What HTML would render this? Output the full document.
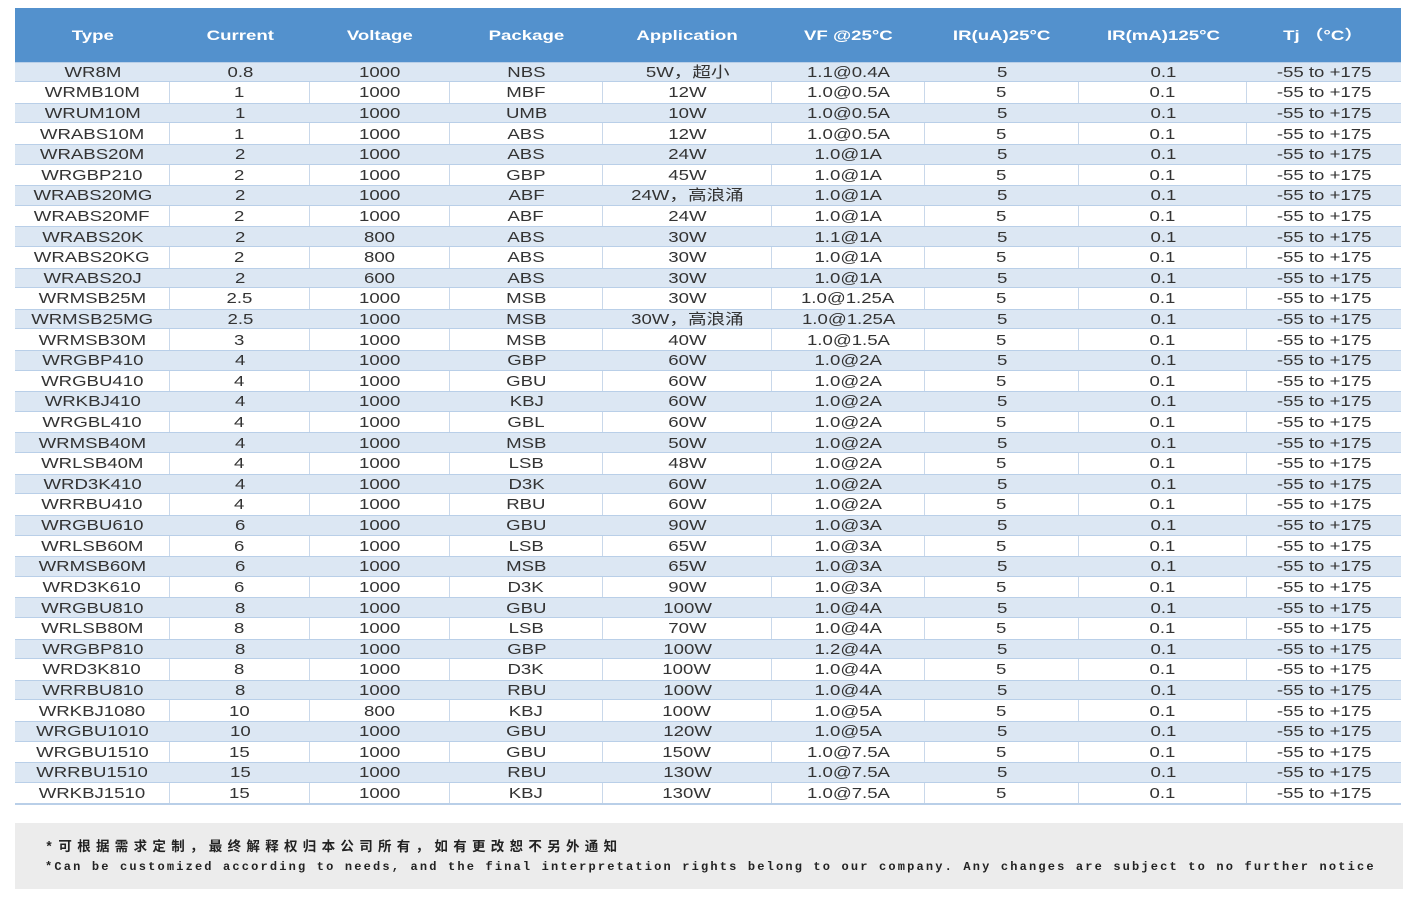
<!DOCTYPE html>
<html><head><meta charset="utf-8">
<style>
*{margin:0;padding:0;box-sizing:border-box}
html,body{width:1420px;height:920px;background:#fff;overflow:hidden}
body{position:relative;font-family:"Liberation Sans","Noto Sans CJK SC",sans-serif;color:#333}
.hdr{position:absolute;left:15px;top:8px;width:1386px;height:53.5px;background:#5391cd;display:flex;align-items:center}
.hdr div{text-align:center;color:#fff;font-weight:bold;font-size:14px}
.hdr span{display:inline-block;transform:scaleX(1.33)}
.tb{position:absolute;left:15px;top:61.5px;width:1386px}
.r{height:20.62px;display:flex;align-items:stretch;font-size:15px;line-height:20.62px}
.r div{text-align:center;white-space:nowrap}
.r span{display:inline-block;transform:scaleX(1.24);position:relative;top:1.2px}
.b{background:#dce7f3;box-shadow:inset 0 1px 0 #b9cfe8,inset 0 -1px 0 #b9cfe8}
.w{background:#fff}
.w div{border-right:1.5px solid #c9d8ea}
.w div:last-child{border-right:none}
.c1{width:155px}.c2{width:140px}.c3{width:140px}.c4{width:153px}.c5{width:169px}.c6{width:153px}.c7{width:154px}.c8{width:168px}.c9{width:154px}
.bot{position:absolute;left:15px;top:802.5px;width:1386px;height:2px;background:#b9cfe8}
.foot{position:absolute;left:15px;top:823px;width:1388px;height:66px;background:#ececec}
.f1{position:absolute;left:45px;top:841px;font-family:"Liberation Mono","Noto Sans CJK SC",monospace;font-weight:bold;font-size:13.5px;letter-spacing:5.3px;color:#222;white-space:nowrap;line-height:16px}
.f2{position:absolute;left:45px;top:859px;font-family:"Liberation Mono",monospace;font-weight:bold;font-size:12px;letter-spacing:2.17px;color:#222;white-space:nowrap;line-height:16px}
</style></head><body>
<div class="hdr">
<div class="c1"><span>Type</span></div>
<div class="c2"><span>Current</span></div>
<div class="c3"><span>Voltage</span></div>
<div class="c4"><span>Package</span></div>
<div class="c5"><span>Application</span></div>
<div class="c6"><span>VF @25°C</span></div>
<div class="c7"><span>IR(uA)25°C</span></div>
<div class="c8"><span>IR(mA)125°C</span></div>
<div class="c9" style="padding-right:2px"><span>Tj （°C）</span></div>
</div>
<div class="tb">
<div class="r b"><div class="c1"><span>WR8M</span></div><div class="c2"><span>0.8</span></div><div class="c3"><span>1000</span></div><div class="c4"><span>NBS</span></div><div class="c5"><span>5W，超小</span></div><div class="c6"><span>1.1@0.4A</span></div><div class="c7"><span>5</span></div><div class="c8"><span>0.1</span></div><div class="c9"><span>-55 to +175</span></div></div>
<div class="r w"><div class="c1"><span>WRMB10M</span></div><div class="c2"><span>1</span></div><div class="c3"><span>1000</span></div><div class="c4"><span>MBF</span></div><div class="c5"><span>12W</span></div><div class="c6"><span>1.0@0.5A</span></div><div class="c7"><span>5</span></div><div class="c8"><span>0.1</span></div><div class="c9"><span>-55 to +175</span></div></div>
<div class="r b"><div class="c1"><span>WRUM10M</span></div><div class="c2"><span>1</span></div><div class="c3"><span>1000</span></div><div class="c4"><span>UMB</span></div><div class="c5"><span>10W</span></div><div class="c6"><span>1.0@0.5A</span></div><div class="c7"><span>5</span></div><div class="c8"><span>0.1</span></div><div class="c9"><span>-55 to +175</span></div></div>
<div class="r w"><div class="c1"><span>WRABS10M</span></div><div class="c2"><span>1</span></div><div class="c3"><span>1000</span></div><div class="c4"><span>ABS</span></div><div class="c5"><span>12W</span></div><div class="c6"><span>1.0@0.5A</span></div><div class="c7"><span>5</span></div><div class="c8"><span>0.1</span></div><div class="c9"><span>-55 to +175</span></div></div>
<div class="r b"><div class="c1"><span>WRABS20M</span></div><div class="c2"><span>2</span></div><div class="c3"><span>1000</span></div><div class="c4"><span>ABS</span></div><div class="c5"><span>24W</span></div><div class="c6"><span>1.0@1A</span></div><div class="c7"><span>5</span></div><div class="c8"><span>0.1</span></div><div class="c9"><span>-55 to +175</span></div></div>
<div class="r w"><div class="c1"><span>WRGBP210</span></div><div class="c2"><span>2</span></div><div class="c3"><span>1000</span></div><div class="c4"><span>GBP</span></div><div class="c5"><span>45W</span></div><div class="c6"><span>1.0@1A</span></div><div class="c7"><span>5</span></div><div class="c8"><span>0.1</span></div><div class="c9"><span>-55 to +175</span></div></div>
<div class="r b"><div class="c1"><span>WRABS20MG</span></div><div class="c2"><span>2</span></div><div class="c3"><span>1000</span></div><div class="c4"><span>ABF</span></div><div class="c5"><span>24W，高浪涌</span></div><div class="c6"><span>1.0@1A</span></div><div class="c7"><span>5</span></div><div class="c8"><span>0.1</span></div><div class="c9"><span>-55 to +175</span></div></div>
<div class="r w"><div class="c1"><span>WRABS20MF</span></div><div class="c2"><span>2</span></div><div class="c3"><span>1000</span></div><div class="c4"><span>ABF</span></div><div class="c5"><span>24W</span></div><div class="c6"><span>1.0@1A</span></div><div class="c7"><span>5</span></div><div class="c8"><span>0.1</span></div><div class="c9"><span>-55 to +175</span></div></div>
<div class="r b"><div class="c1"><span>WRABS20K</span></div><div class="c2"><span>2</span></div><div class="c3"><span>800</span></div><div class="c4"><span>ABS</span></div><div class="c5"><span>30W</span></div><div class="c6"><span>1.1@1A</span></div><div class="c7"><span>5</span></div><div class="c8"><span>0.1</span></div><div class="c9"><span>-55 to +175</span></div></div>
<div class="r w"><div class="c1"><span>WRABS20KG</span></div><div class="c2"><span>2</span></div><div class="c3"><span>800</span></div><div class="c4"><span>ABS</span></div><div class="c5"><span>30W</span></div><div class="c6"><span>1.0@1A</span></div><div class="c7"><span>5</span></div><div class="c8"><span>0.1</span></div><div class="c9"><span>-55 to +175</span></div></div>
<div class="r b"><div class="c1"><span>WRABS20J</span></div><div class="c2"><span>2</span></div><div class="c3"><span>600</span></div><div class="c4"><span>ABS</span></div><div class="c5"><span>30W</span></div><div class="c6"><span>1.0@1A</span></div><div class="c7"><span>5</span></div><div class="c8"><span>0.1</span></div><div class="c9"><span>-55 to +175</span></div></div>
<div class="r w"><div class="c1"><span>WRMSB25M</span></div><div class="c2"><span>2.5</span></div><div class="c3"><span>1000</span></div><div class="c4"><span>MSB</span></div><div class="c5"><span>30W</span></div><div class="c6"><span>1.0@1.25A</span></div><div class="c7"><span>5</span></div><div class="c8"><span>0.1</span></div><div class="c9"><span>-55 to +175</span></div></div>
<div class="r b"><div class="c1"><span>WRMSB25MG</span></div><div class="c2"><span>2.5</span></div><div class="c3"><span>1000</span></div><div class="c4"><span>MSB</span></div><div class="c5"><span>30W，高浪涌</span></div><div class="c6"><span>1.0@1.25A</span></div><div class="c7"><span>5</span></div><div class="c8"><span>0.1</span></div><div class="c9"><span>-55 to +175</span></div></div>
<div class="r w"><div class="c1"><span>WRMSB30M</span></div><div class="c2"><span>3</span></div><div class="c3"><span>1000</span></div><div class="c4"><span>MSB</span></div><div class="c5"><span>40W</span></div><div class="c6"><span>1.0@1.5A</span></div><div class="c7"><span>5</span></div><div class="c8"><span>0.1</span></div><div class="c9"><span>-55 to +175</span></div></div>
<div class="r b"><div class="c1"><span>WRGBP410</span></div><div class="c2"><span>4</span></div><div class="c3"><span>1000</span></div><div class="c4"><span>GBP</span></div><div class="c5"><span>60W</span></div><div class="c6"><span>1.0@2A</span></div><div class="c7"><span>5</span></div><div class="c8"><span>0.1</span></div><div class="c9"><span>-55 to +175</span></div></div>
<div class="r w"><div class="c1"><span>WRGBU410</span></div><div class="c2"><span>4</span></div><div class="c3"><span>1000</span></div><div class="c4"><span>GBU</span></div><div class="c5"><span>60W</span></div><div class="c6"><span>1.0@2A</span></div><div class="c7"><span>5</span></div><div class="c8"><span>0.1</span></div><div class="c9"><span>-55 to +175</span></div></div>
<div class="r b"><div class="c1"><span>WRKBJ410</span></div><div class="c2"><span>4</span></div><div class="c3"><span>1000</span></div><div class="c4"><span>KBJ</span></div><div class="c5"><span>60W</span></div><div class="c6"><span>1.0@2A</span></div><div class="c7"><span>5</span></div><div class="c8"><span>0.1</span></div><div class="c9"><span>-55 to +175</span></div></div>
<div class="r w"><div class="c1"><span>WRGBL410</span></div><div class="c2"><span>4</span></div><div class="c3"><span>1000</span></div><div class="c4"><span>GBL</span></div><div class="c5"><span>60W</span></div><div class="c6"><span>1.0@2A</span></div><div class="c7"><span>5</span></div><div class="c8"><span>0.1</span></div><div class="c9"><span>-55 to +175</span></div></div>
<div class="r b"><div class="c1"><span>WRMSB40M</span></div><div class="c2"><span>4</span></div><div class="c3"><span>1000</span></div><div class="c4"><span>MSB</span></div><div class="c5"><span>50W</span></div><div class="c6"><span>1.0@2A</span></div><div class="c7"><span>5</span></div><div class="c8"><span>0.1</span></div><div class="c9"><span>-55 to +175</span></div></div>
<div class="r w"><div class="c1"><span>WRLSB40M</span></div><div class="c2"><span>4</span></div><div class="c3"><span>1000</span></div><div class="c4"><span>LSB</span></div><div class="c5"><span>48W</span></div><div class="c6"><span>1.0@2A</span></div><div class="c7"><span>5</span></div><div class="c8"><span>0.1</span></div><div class="c9"><span>-55 to +175</span></div></div>
<div class="r b"><div class="c1"><span>WRD3K410</span></div><div class="c2"><span>4</span></div><div class="c3"><span>1000</span></div><div class="c4"><span>D3K</span></div><div class="c5"><span>60W</span></div><div class="c6"><span>1.0@2A</span></div><div class="c7"><span>5</span></div><div class="c8"><span>0.1</span></div><div class="c9"><span>-55 to +175</span></div></div>
<div class="r w"><div class="c1"><span>WRRBU410</span></div><div class="c2"><span>4</span></div><div class="c3"><span>1000</span></div><div class="c4"><span>RBU</span></div><div class="c5"><span>60W</span></div><div class="c6"><span>1.0@2A</span></div><div class="c7"><span>5</span></div><div class="c8"><span>0.1</span></div><div class="c9"><span>-55 to +175</span></div></div>
<div class="r b"><div class="c1"><span>WRGBU610</span></div><div class="c2"><span>6</span></div><div class="c3"><span>1000</span></div><div class="c4"><span>GBU</span></div><div class="c5"><span>90W</span></div><div class="c6"><span>1.0@3A</span></div><div class="c7"><span>5</span></div><div class="c8"><span>0.1</span></div><div class="c9"><span>-55 to +175</span></div></div>
<div class="r w"><div class="c1"><span>WRLSB60M</span></div><div class="c2"><span>6</span></div><div class="c3"><span>1000</span></div><div class="c4"><span>LSB</span></div><div class="c5"><span>65W</span></div><div class="c6"><span>1.0@3A</span></div><div class="c7"><span>5</span></div><div class="c8"><span>0.1</span></div><div class="c9"><span>-55 to +175</span></div></div>
<div class="r b"><div class="c1"><span>WRMSB60M</span></div><div class="c2"><span>6</span></div><div class="c3"><span>1000</span></div><div class="c4"><span>MSB</span></div><div class="c5"><span>65W</span></div><div class="c6"><span>1.0@3A</span></div><div class="c7"><span>5</span></div><div class="c8"><span>0.1</span></div><div class="c9"><span>-55 to +175</span></div></div>
<div class="r w"><div class="c1"><span>WRD3K610</span></div><div class="c2"><span>6</span></div><div class="c3"><span>1000</span></div><div class="c4"><span>D3K</span></div><div class="c5"><span>90W</span></div><div class="c6"><span>1.0@3A</span></div><div class="c7"><span>5</span></div><div class="c8"><span>0.1</span></div><div class="c9"><span>-55 to +175</span></div></div>
<div class="r b"><div class="c1"><span>WRGBU810</span></div><div class="c2"><span>8</span></div><div class="c3"><span>1000</span></div><div class="c4"><span>GBU</span></div><div class="c5"><span>100W</span></div><div class="c6"><span>1.0@4A</span></div><div class="c7"><span>5</span></div><div class="c8"><span>0.1</span></div><div class="c9"><span>-55 to +175</span></div></div>
<div class="r w"><div class="c1"><span>WRLSB80M</span></div><div class="c2"><span>8</span></div><div class="c3"><span>1000</span></div><div class="c4"><span>LSB</span></div><div class="c5"><span>70W</span></div><div class="c6"><span>1.0@4A</span></div><div class="c7"><span>5</span></div><div class="c8"><span>0.1</span></div><div class="c9"><span>-55 to +175</span></div></div>
<div class="r b"><div class="c1"><span>WRGBP810</span></div><div class="c2"><span>8</span></div><div class="c3"><span>1000</span></div><div class="c4"><span>GBP</span></div><div class="c5"><span>100W</span></div><div class="c6"><span>1.2@4A</span></div><div class="c7"><span>5</span></div><div class="c8"><span>0.1</span></div><div class="c9"><span>-55 to +175</span></div></div>
<div class="r w"><div class="c1"><span>WRD3K810</span></div><div class="c2"><span>8</span></div><div class="c3"><span>1000</span></div><div class="c4"><span>D3K</span></div><div class="c5"><span>100W</span></div><div class="c6"><span>1.0@4A</span></div><div class="c7"><span>5</span></div><div class="c8"><span>0.1</span></div><div class="c9"><span>-55 to +175</span></div></div>
<div class="r b"><div class="c1"><span>WRRBU810</span></div><div class="c2"><span>8</span></div><div class="c3"><span>1000</span></div><div class="c4"><span>RBU</span></div><div class="c5"><span>100W</span></div><div class="c6"><span>1.0@4A</span></div><div class="c7"><span>5</span></div><div class="c8"><span>0.1</span></div><div class="c9"><span>-55 to +175</span></div></div>
<div class="r w"><div class="c1"><span>WRKBJ1080</span></div><div class="c2"><span>10</span></div><div class="c3"><span>800</span></div><div class="c4"><span>KBJ</span></div><div class="c5"><span>100W</span></div><div class="c6"><span>1.0@5A</span></div><div class="c7"><span>5</span></div><div class="c8"><span>0.1</span></div><div class="c9"><span>-55 to +175</span></div></div>
<div class="r b"><div class="c1"><span>WRGBU1010</span></div><div class="c2"><span>10</span></div><div class="c3"><span>1000</span></div><div class="c4"><span>GBU</span></div><div class="c5"><span>120W</span></div><div class="c6"><span>1.0@5A</span></div><div class="c7"><span>5</span></div><div class="c8"><span>0.1</span></div><div class="c9"><span>-55 to +175</span></div></div>
<div class="r w"><div class="c1"><span>WRGBU1510</span></div><div class="c2"><span>15</span></div><div class="c3"><span>1000</span></div><div class="c4"><span>GBU</span></div><div class="c5"><span>150W</span></div><div class="c6"><span>1.0@7.5A</span></div><div class="c7"><span>5</span></div><div class="c8"><span>0.1</span></div><div class="c9"><span>-55 to +175</span></div></div>
<div class="r b"><div class="c1"><span>WRRBU1510</span></div><div class="c2"><span>15</span></div><div class="c3"><span>1000</span></div><div class="c4"><span>RBU</span></div><div class="c5"><span>130W</span></div><div class="c6"><span>1.0@7.5A</span></div><div class="c7"><span>5</span></div><div class="c8"><span>0.1</span></div><div class="c9"><span>-55 to +175</span></div></div>
<div class="r w"><div class="c1"><span>WRKBJ1510</span></div><div class="c2"><span>15</span></div><div class="c3"><span>1000</span></div><div class="c4"><span>KBJ</span></div><div class="c5"><span>130W</span></div><div class="c6"><span>1.0@7.5A</span></div><div class="c7"><span>5</span></div><div class="c8"><span>0.1</span></div><div class="c9"><span>-55 to +175</span></div></div>
</div>
<div class="bot"></div>
<div class="foot"></div>
<div class="f1">*可根据需求定制，最终解释权归本公司所有，如有更改恕不另外通知</div>
<div class="f2">*Can be customized according to needs, and the final interpretation rights belong to our company. Any changes are subject to no further notice</div>
</body></html>
